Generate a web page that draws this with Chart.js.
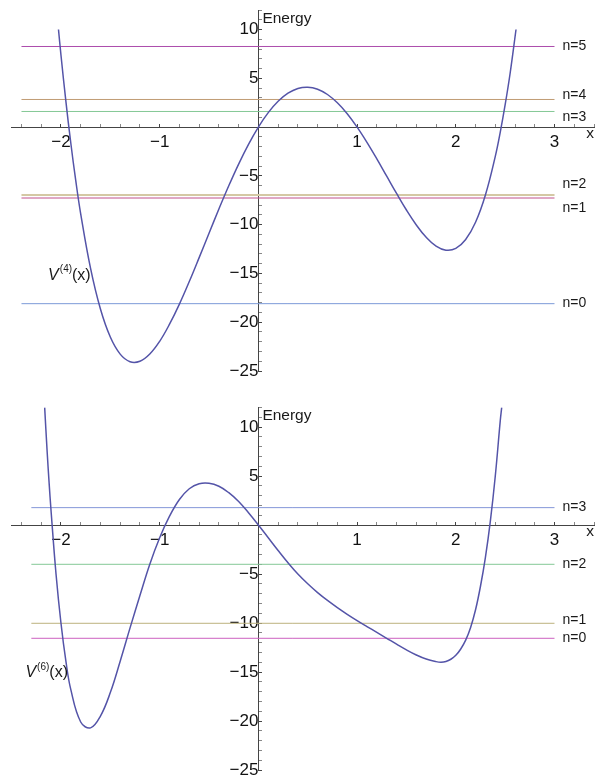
<!DOCTYPE html>
<html>
<head>
<meta charset="utf-8">
<script src="https://cdn.jsdelivr.net/npm/chart.js@4.4.1/dist/chart.umd.min.js"></script>
<style>
  html, body { margin: 0; padding: 0; background: #fff; }
  .box { position: absolute; left: 0; width: 597px; }
  #top { top: 0; height: 390px; }
  #bottom { top: 390px; height: 391px; }
</style>
</head>
<body>
<div class="box" id="top"><canvas id="chart4"></canvas></div>
<div class="box" id="bottom"><canvas id="chart6"></canvas></div>
<script>
// V(4) potential
const v4X = [-2.025, -2.0, -1.95, -1.9, -1.85, -1.8, -1.7, -1.6, -1.5, -1.4, -1.3, -1.2, -1.1, -1.0, -0.9, -0.8, -0.7, -0.6, -0.5, -0.4,
             -0.3, -0.2, -0.1, 0, 0.1, 0.2, 0.3, 0.4, 0.5, 0.6, 0.7, 0.8, 0.9, 1.0, 1.1, 1.2, 1.3, 1.4, 1.5, 1.6, 1.7, 1.8,
             1.9, 2.0, 2.1, 2.2, 2.3, 2.4, 2.45, 2.5, 2.55, 2.61];
const v4Y = [10.0, 7.39, 2.63, -1.66, -5.49, -8.89, -14.49, -18.65, -21.52, -23.27, -24.05, -24.0, -23.26, -21.96, -20.2, -18.14, -15.83, -13.38, -10.88, -8.4,
             -6.02, -3.79, -1.77, 0, 1.48, 2.64, 3.47, 3.96, 4.09, 3.88, 3.34, 2.49, 1.37, 0, -1.56, -3.26, -5.03, -6.8, -8.5, -10.03, -11.3, -12.2,
             -12.62, -12.44, -11.53, -9.76, -6.96, -3.0, -0.54, 2.29, 5.49, 10.0];
const v4Levels = [-18.1, -7.27, -6.96, 1.6, 2.83, 8.26];
const v4LevelNames = ["n=0", "n=1", "n=2", "n=3", "n=4", "n=5"];

// V(6) potential
const v6X = [-2.165, -2.14, -2.12, -2.1, -2.05, -2.0, -1.95, -1.9, -1.8, -1.7, -1.6, -1.5, -1.4, -1.3, -1.2, -1.1, -1.0,
             -0.9, -0.8, -0.7, -0.6, -0.5, -0.4, -0.3, -0.2, -0.1, 0, 0.1, 0.2, 0.3, 0.4, 0.5, 0.6, 0.7, 0.8, 0.9, 1.0,
             1.1, 1.2, 1.3, 1.4, 1.5, 1.6, 1.7, 1.8, 1.85, 1.9, 1.95, 2.0, 2.05, 2.1, 2.15, 2.2, 2.25, 2.3, 2.35, 2.4, 2.45, 2.465];
const v6Y = [12.0, 7.5, 4.3, 1.4, -5.0, -10.0, -13.9, -16.8, -20.1, -20.7, -19.5, -17.1, -13.9, -10.5, -7.2, -4.0, -1.3,
             0.9, 2.6, 3.7, 4.2, 4.25, 3.95, 3.3, 2.4, 1.25, 0, -1.3, -2.6, -3.85, -5.0, -6.0, -6.9, -7.7, -8.43, -9.11, -9.75,
             -10.36, -10.96, -11.56, -12.16, -12.74, -13.26, -13.68, -13.94, -14.0, -13.93, -13.7, -13.3, -12.65, -11.75, -10.45, -8.65, -6.25, -3.3, 0.4, 5.0, 10.6, 12.0];
const v6Levels = [-11.56, -10.03, -4.01, 1.77];
const v6LevelNames = ["n=0", "n=1", "n=2", "n=3"];

const xTicksStep = 0.2;
const yTicksStep = 1;

const FONT = '"Liberation Sans", Arial, sans-serif';
const curveColor = "#5454a8";

function fmt(v) {
  if (Math.abs(v) < 1e-9) return "";
  return v < 0 ? "\u2212" + Math.abs(v) : String(v);
}

function isMajor(v, every) {
  const r = v / every;
  return Math.abs(r - Math.round(r)) < 1e-6;
}

// keep the plot area exactly where layout.padding puts it
function noPadding(scale) {
  scale.paddingLeft = 0;
  scale.paddingRight = 0;
  scale.paddingTop = 0;
  scale.paddingBottom = 0;
}

function textPlugin(o) {
  return {
    id: "plotText",
    afterDatasetsDraw(chart) {
      const { ctx, scales: { x, y } } = chart;
      ctx.save();
      ctx.fillStyle = "#1a1a1a";

      // level names at the right end of each line
      ctx.font = "14px " + FONT;
      ctx.textAlign = "left";
      ctx.textBaseline = "middle";
      o.levels.forEach((e, i) => {
        ctx.fillText(o.names[i], x.getPixelForValue(3) + 8, y.getPixelForValue(e) + o.shift[i]);
      });

      // axis names
      ctx.font = "15.5px " + FONT;
      ctx.textBaseline = "alphabetic";
      ctx.fillText("Energy", x.getPixelForValue(0) + 4, chart.chartArea.top + 13);
      ctx.textAlign = "center";
      ctx.textBaseline = "middle";
      ctx.fillText("x", x.getPixelForValue(3.36), y.getPixelForValue(0) + 7);

      // curve label V^(k)(x)
      let px = x.getPixelForValue(o.vAt[0]);
      const py = y.getPixelForValue(o.vAt[1]);
      ctx.textAlign = "left";
      ctx.textBaseline = "middle";
      ctx.font = "italic 16px " + FONT;
      ctx.fillText("V", px, py);
      px += ctx.measureText("V").width + 1;
      ctx.font = "10px " + FONT;
      ctx.fillText("(" + o.order + ")", px, py - 6);
      px += ctx.measureText("(" + o.order + ")").width;
      ctx.font = "16px " + FONT;
      ctx.fillText("(x)", px, py);
      ctx.restore();
    },
  };
}

function makeChart(id, xs, ys, levels, names, colors, widths, lineStart, padding, extra) {
  const datasets = [
    {
      data: xs.map((v, i) => ({ x: v, y: ys[i] })),
      borderColor: curveColor,
      borderWidth: 1.5,
      pointRadius: 0,
      tension: 0.4,
    },
  ];
  levels.forEach((e, i) => {
    datasets.push({
      data: [{ x: lineStart, y: e }, { x: 3, y: e }],
      borderColor: colors[i],
      borderWidth: widths[i],
      pointRadius: 0,
    });
  });

  return new Chart(document.getElementById(id).getContext("2d"), {
    type: "line",
    data: { datasets },
    options: {
      responsive: true,
      maintainAspectRatio: false,
      animation: false,
      events: [],
      layout: { padding },
      plugins: { legend: { display: false }, tooltip: { enabled: false } },
      scales: {
        x: {
          type: "linear",
          min: -2.5,
          max: 3.4,
          position: { y: 0 },
          afterFit: noPadding,
          border: { color: "#444", width: 1 },
          grid: {
            drawOnChartArea: false,
            tickLength: -4,
            tickColor: (c) => (isMajor(c.tick.value, 1) ? "#444" : "#888"),
          },
          ticks: {
            stepSize: xTicksStep,
            includeBounds: false,
            autoSkip: false,
            maxRotation: 0,
            padding: 9,
            color: "#111",
            font: { size: 17, family: FONT },
            callback: (v) => (isMajor(v, 1) ? fmt(Math.round(v)) : ""),
          },
        },
        y: {
          type: "linear",
          min: -25,
          max: 12,
          position: { x: 0 },
          afterFit: noPadding,
          border: { color: "#444", width: 1 },
          grid: {
            drawOnChartArea: false,
            tickLength: -4,
            tickColor: (c) => (isMajor(c.tick.value, 5) ? "#444" : "#888"),
          },
          ticks: {
            stepSize: yTicksStep,
            includeBounds: false,
            autoSkip: false,
            padding: 6,
            color: "#111",
            font: { size: 17, family: FONT },
            callback: (v) => (isMajor(v, 5) ? fmt(Math.round(v)) : ""),
          },
        },
      },
    },
    plugins: [textPlugin(extra)],
  });
}

makeChart(
  "chart4", v4X, v4Y, v4Levels, v4LevelNames,
  ["#7c9ad8", "#c0508c", "#d4c8a4", "#84c896", "#c09c74", "#ac4cac"],
  [1, 1, 2, 1, 1, 1],
  -2.4,
  { left: 11.6, right: 3, top: 10, bottom: 19 },
  { levels: v4Levels, names: v4LevelNames, shift: [-1, 10, -11, 6, -4, 0], vAt: [-2.13, -15.2], order: 4 }
);

makeChart(
  "chart6", v6X, v6Y, v6Levels, v6LevelNames,
  ["#cc60c0", "#bcb27e", "#84c896", "#8496d8"],
  [1, 1, 1, 1],
  -2.3,
  { left: 11.6, right: 3, top: 17.4, bottom: 11 },
  { levels: v6Levels, names: v6LevelNames, shift: [0, -3, 0, -1], vAt: [-2.36, -15.1], order: 6 }
);
</script>
</body>
</html>
